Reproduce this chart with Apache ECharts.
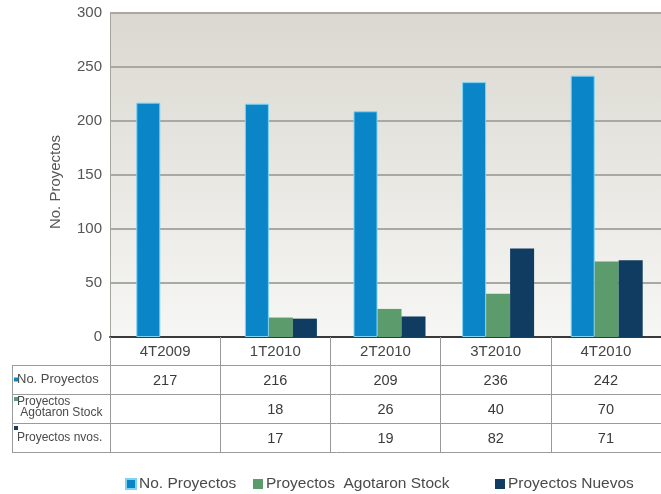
<!DOCTYPE html>
<html>
<head>
<meta charset="utf-8">
<script src="https://cdn.jsdelivr.net/npm/echarts@6/dist/echarts.min.js"></script>
<style>
  html, body { margin: 0; padding: 0; background: #ffffff; }
  #chart { width: 661px; height: 494px; }
</style>
</head>
<body>
<div id="chart"></div>
<script>
// Quarterly project counts
const categories = ['4T2009', '1T2010', '2T2010', '3T2010', '4T2010'];
const seriesNames = ['No. Proyectos', 'Proyectos  Agotaron Stock', 'Proyectos Nuevos'];
const proyectos = [217, 216, 209, 236, 242];
const agotaronStock = [null, 18, 26, 40, 70];
const nuevos = [null, 17, 19, 82, 71];
// Row captions of the data table under the axis
const rowLabels = ['No. Proyectos', 'Proyectos\n Agotaron Stock', 'Proyectos nvos.'];
const yTicks = [0, 50, 100, 150, 200, 250, 300];

const colors = ['#0a86c8', '#5c9b6c', '#0f3c60'];
const values = [proyectos, agotaronStock, nuevos];
const FONT = '"Liberation Sans", Arial, sans-serif';

const chart = echarts.init(document.getElementById('chart'), null, { renderer: 'canvas' });

const legendLefts = [120, 248, 490];
const rowFontSizes = [13, 12, 12];

const option = {
  animation: false,
  textStyle: { fontFamily: FONT },
  grid: [
    // frame: background, value gridlines, category axis with the table columns
    {
      left: 110, top: 13, width: 558, height: 324,
      show: true, borderWidth: 0,
      backgroundColor: new echarts.graphic.LinearGradient(0, 0, 0, 1, [
        { offset: 0, color: '#dad8d0' },
        { offset: 1, color: '#f6f6f4' }
      ])
    },
    // bar layer
    { left: 118, top: 13, width: 549, height: 324, show: false }
  ],
  legend: seriesNames.map((name, i) => ({
    data: [name],
    left: legendLefts[i],
    top: 471,
    icon: 'rect',
    itemWidth: 10, itemHeight: 10, itemGap: 0,
    textStyle: { fontFamily: FONT, fontSize: 15.5, color: '#4a4a4a', padding: [0, 0, 0, -2] },
    selectedMode: false
  })),
  xAxis: [
    {
      type: 'category',
      gridIndex: 0,
      data: categories,
      axisLine: { show: true, lineStyle: { color: '#3a3a3a', width: 2 } },
      axisTick: { show: true, interval: 0, length: 115, lineStyle: { color: '#999', width: 1 } },
      axisLabel: { margin: 7, fontSize: 15, color: '#444', fontFamily: FONT, interval: 0 },
      splitLine: { show: false }
    },
    {
      type: 'category',
      gridIndex: 1,
      data: categories,
      show: false
    }
  ],
  yAxis: [
    {
      type: 'value',
      gridIndex: 0,
      min: 0, max: 300, interval: 50,
      name: 'No. Proyectos',
      nameLocation: 'middle',
      nameGap: 47,
      nameTextStyle: { fontSize: 15, color: '#555', fontFamily: FONT, padding: [0, 14, 0, 0] },
      axisLine: { show: true, lineStyle: { color: '#a5a5a0', width: 1 } },
      axisTick: { show: false },
      axisLabel: {
        margin: 8, fontSize: 15, color: '#555', fontFamily: FONT,
        formatter: v => (yTicks.indexOf(v) >= 0 ? String(v) : '')
      },
      splitLine: { show: true, lineStyle: { color: '#aaa8a2', width: 2 } }
    },
    {
      type: 'value',
      gridIndex: 1,
      min: 0, max: 300, interval: 50,
      show: false,
      splitLine: { show: false }
    }
  ],
  series: seriesNames.map((name, i) => ({
    name: name,
    type: 'bar',
    xAxisIndex: 1,
    yAxisIndex: 1,
    data: values[i],
    barWidth: 24,
    barGap: '0%',
    itemStyle: {
      color: colors[i],
      borderColor: i === 0 ? '#7fd3f2' : colors[i],
      borderWidth: i === 0 ? 1 : 0
    }
  }))
};

chart.setOption(option);

// Data table below the plot, aligned to the category axis
function drawTable() {
  const c0 = chart.convertToPixel({ xAxisIndex: 0 }, 0);
  const c1 = chart.convertToPixel({ xAxisIndex: 0 }, 1);
  const step = c1 - c0;
  const axisY = chart.convertToPixel({ yAxisIndex: 0 }, 0);
  const leftEdge = 12;
  const rowH = 29;
  const firstRowTop = axisY + 28;
  const elements = [];
  const lineStyle = { stroke: '#9a9a9a', lineWidth: 1 };

  // horizontal rules
  for (let r = 0; r <= values.length; r++) {
    const y = Math.round(firstRowTop + r * rowH) + 0.5;
    elements.push({ type: 'line', shape: { x1: leftEdge, y1: y, x2: 661, y2: y }, style: lineStyle, silent: true });
  }
  // left border of the caption column
  elements.push({
    type: 'line',
    shape: { x1: leftEdge + 0.5, y1: firstRowTop, x2: leftEdge + 0.5, y2: firstRowTop + values.length * rowH },
    style: lineStyle, silent: true
  });

  values.forEach((arr, r) => {
    const top = firstRowTop + r * rowH;
    const mid = top + rowH / 2;
    const twoLine = rowLabels[r].indexOf('\n') >= 0;
    // series colour marker
    elements.push({
      type: 'rect',
      shape: { x: leftEdge + 2, y: r === 0 ? mid - 2 : top + 3, width: 4, height: 4 },
      style: { fill: colors[r] }, silent: true
    });
    elements.push({
      type: 'text',
      x: leftEdge + 5, y: twoLine ? top + 2 : mid,
      style: {
        text: rowLabels[r],
        fontFamily: FONT, fontSize: rowFontSizes[r],
        lineHeight: twoLine ? 11 : 14,
        fill: '#4a4a4a',
        align: 'left',
        verticalAlign: twoLine ? 'top' : 'middle'
      },
      silent: true
    });
    arr.forEach((v, i) => {
      if (v === null) return;
      elements.push({
        type: 'text',
        x: c0 + i * step, y: mid + 1,
        style: {
          text: String(v), fontFamily: FONT, fontSize: 14.5, fill: '#3a3a3a',
          align: 'center', verticalAlign: 'middle'
        },
        silent: true
      });
    });
  });

  chart.setOption({ graphic: { elements: elements } });
}

drawTable();
</script>
</body>
</html>
